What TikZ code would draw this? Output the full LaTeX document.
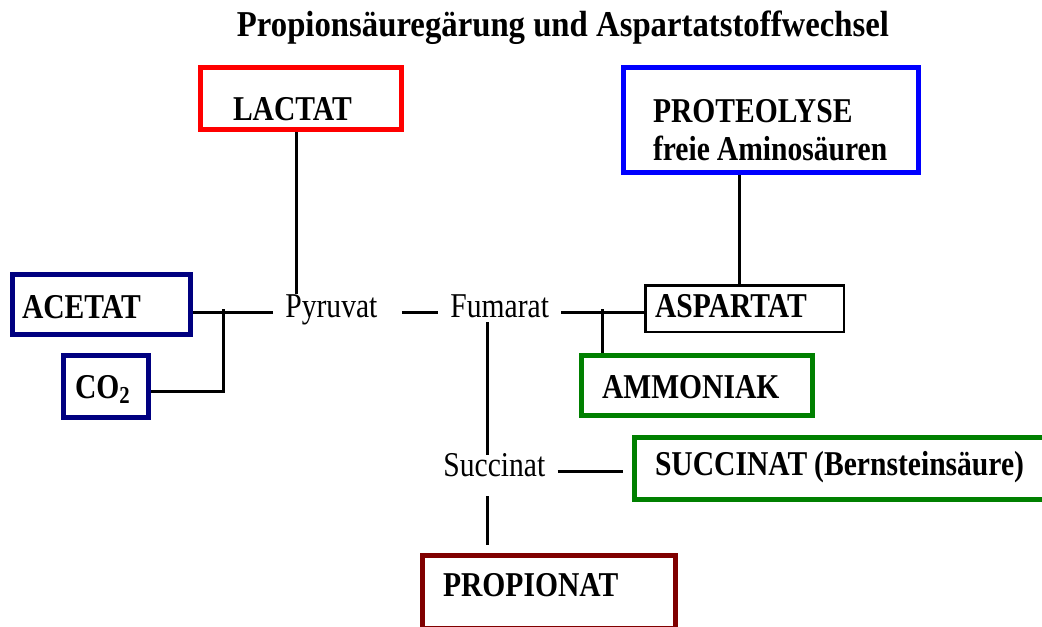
\documentclass[tikz,border=0pt]{standalone}
\usepackage{fontspec}
\setmainfont{Liberation Serif}[FakeStretch=0.85]
\newfontfamily\titelschrift{Liberation Serif}[FakeStretch=0.9]
\usepackage{xcolor}
\usepackage{tikz}
\usetikzlibrary{calc}

\definecolor{lactatrot}{RGB}{255,0,0}
\definecolor{proteoblau}{RGB}{0,0,255}
\definecolor{acetatblau}{RGB}{0,0,128}
\definecolor{nhgruen}{RGB}{0,128,0}
\definecolor{propionrot}{RGB}{128,0,0}

\tikzset{
    kasten/.style={draw, line width=2.5pt, inner ysep=0pt, align=left, anchor=north west,
        font=\bfseries\fontsize{17.4}{19}\selectfont},
    stoff/.style={inner xsep=6pt, inner ysep=0pt, anchor=base west,
        font=\fontsize{17.4}{19}\selectfont},
    linie/.style={line width=1.5pt}
}

\begin{document}
\begin{tikzpicture}[x=0.5pt, y=-0.5pt]

    \useasboundingbox (0,0) rectangle (1042,626);

    % -------------------------
    % Title
    % -------------------------
    \node[anchor=base, font=\titelschrift\bfseries\fontsize{18.2}{20}\selectfont]
        (titel) at (563,37) {Propionsäuregärung und Aspartatstoffwechsel};

    % -------------------------
    % Boxes (products and sources)
    % -------------------------
    \node[kasten, lactatrot, text=black, inner xsep=16.25pt, text width=68pt,
        text height=26.25pt, text depth=4.75pt] (lactat) at (198,65) {LACTAT};

    \node[kasten, proteoblau, text=black, inner xsep=14.75pt, text width=118pt,
        text height=27.25pt, text depth=25.25pt] (proteolyse) at (621,65)
        {PROTEOLYSE\\freie\hspace{0.2em}Aminosäuren};

    \node[kasten, acetatblau, text=black, inner xsep=4.75pt, text width=79.5pt,
        text height=21.75pt, text depth=8.25pt] (acetat) at (10,272) {ACETAT};

    \node[kasten, acetatblau, text=black, inner xsep=5.75pt, text width=31pt,
        text height=21.25pt, text depth=9.75pt] (co2) at (61,353) {CO\textsubscript{2}};

    \node[kasten, line width=1.25pt, inner xsep=4.875pt, text width=89.5pt,
        text height=15.875pt, text depth=7.375pt] (aspartat) at (644,284) {ASPARTAT};

    \node[kasten, nhgruen, text=black, inner xsep=10.25pt, text width=95pt,
        text height=21.25pt, text depth=8.75pt] (ammoniak) at (579,353) {AMMONIAK};

    \node[kasten, nhgruen, text=black, inner xsep=10.25pt, text width=192pt,
        text height=18.75pt, text depth=12.25pt] (succinatbox) at (632,435)
        {SUCCINAT\hspace{0.2em}(Bernsteinsäure)};

    \node[kasten, propionrot, text=black, inner xsep=10.25pt, text width=106pt,
        text height=20.25pt, text depth=16pt] (propionat) at (420,553) {PROPIONAT};

    % -------------------------
    % Intermediates
    % -------------------------
    \node[stoff] (pyruvat) at (273,317) {Pyruvat};
    \node[stoff, text depth=2.5pt] (fumarat) at (438,317) {Fumarat};
    \node[stoff, text height=10.5pt, text depth=10pt] (succinat) at (431,476) {Succinat};

    % -------------------------
    % Connectors
    % -------------------------
    \coordinate (gabel) at (223,309);
    \coordinate (abzweig) at (602,309);
    \coordinate (achse) at (487,0);

    \draw[linie] ($(lactat.south)+(-5,0)$) -- ($(lactat.south |- pyruvat.north)+(-5,0)$);
    \draw[linie] (pyruvat.mid west) -- (pyruvat.mid west -| acetat.east);
    \draw[linie] (gabel) |- ([yshift=-2.5pt]co2.east);
    \draw[linie] ([xshift=6pt]pyruvat.mid east) -- (fumarat.mid west);
    \draw[linie] (fumarat.mid east) -- (fumarat.mid east -| aspartat.west);
    \draw[linie] (abzweig) -- (abzweig |- ammoniak.north);
    \draw[linie] ($(aspartat.north)+(-5.5,0)$) -- ($(aspartat.north |- proteolyse.south)+(-5.5,0)$);
    \draw[linie] (fumarat.south -| achse) -- (succinat.north -| achse);
    \draw[linie, shorten >=4pt] (succinat.south -| achse) -- (propionat.north -| achse);
    \draw[linie, shorten >=4.5pt] (succinat.mid east) -- (succinat.mid east -| succinatbox.west);

\end{tikzpicture}
\end{document}
